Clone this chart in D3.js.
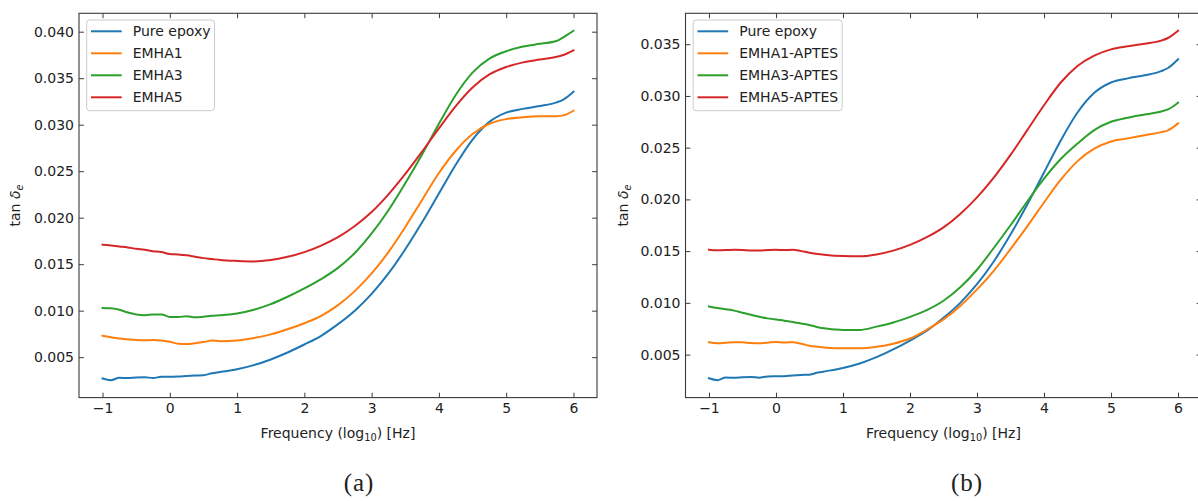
<!DOCTYPE html>
<html>
<head>
<meta charset="utf-8">
<script src="https://cdn.jsdelivr.net/npm/d3@7"></script>
<style>
  html, body { margin: 0; padding: 0; background: #fff; }
  svg { display: block; }
  text { font-family: "DejaVu Sans", sans-serif; fill: #222; }
</style>
</head>
<body>
<svg id="chart" width="1198" height="501"></svg>
<script>
// Frequency grid, log10(Hz)
const freq = [-1, -0.875, -0.75, -0.625, -0.5, -0.375, -0.25, -0.125, 0, 0.125, 0.25, 0.375, 0.5, 0.625, 0.75,
  1, 1.25, 1.5, 1.75, 2, 2.25, 2.5, 2.75, 3, 3.25, 3.5, 3.75, 4, 4.25, 4.5, 4.75, 5, 5.25, 5.5, 5.75, 5.85, 6];

// Dielectric loss tangent, tan δe
const pureEpoxy = [0.00271, 0.00253, 0.00278, 0.00276, 0.00282, 0.00284, 0.00276, 0.00289, 0.00290, 0.00291, 0.00298, 0.00303, 0.00306, 0.00326, 0.00340,
  0.00371, 0.00414, 0.00475, 0.00550, 0.00636, 0.00730, 0.00855, 0.01000, 0.01180, 0.01400, 0.01660, 0.01950, 0.02260, 0.02570, 0.02840, 0.03030, 0.03130, 0.03170, 0.03200, 0.03240, 0.03270, 0.03355];

const emha1 = [0.00730, 0.00715, 0.00700, 0.00692, 0.00685, 0.00682, 0.00684, 0.00680, 0.00665, 0.00645, 0.00642, 0.00650, 0.00662, 0.00680, 0.00672,
  0.00680, 0.00705, 0.00745, 0.00800, 0.00865, 0.00945, 0.01060, 0.01210, 0.01400, 0.01630, 0.01900, 0.02190, 0.02480, 0.02720, 0.02900, 0.03010, 0.03060, 0.03080, 0.03090, 0.03092, 0.03100, 0.03150];

const emha3 = [0.01030, 0.01025, 0.01010, 0.00980, 0.00960, 0.00952, 0.00958, 0.00960, 0.00932, 0.00932, 0.00940, 0.00928, 0.00935, 0.00945, 0.00950,
  0.00970, 0.01010, 0.01070, 0.01150, 0.01240, 0.01340, 0.01460, 0.01620, 0.01830, 0.02080, 0.02370, 0.02680, 0.03010, 0.03320, 0.03560, 0.03710, 0.03790, 0.03840, 0.03870, 0.03900, 0.03940, 0.04010];

const emha5 = [0.01710, 0.01700, 0.01690, 0.01680, 0.01665, 0.01655, 0.01640, 0.01630, 0.01610, 0.01605, 0.01595, 0.01580, 0.01565, 0.01555, 0.01545,
  0.01535, 0.01530, 0.01545, 0.01580, 0.01630, 0.01700, 0.01790, 0.01910, 0.02060, 0.02250, 0.02470, 0.02710, 0.02960, 0.03200, 0.03400, 0.03540, 0.03620, 0.03670, 0.03700, 0.03730, 0.03750, 0.03800];

const emha1Aptes = [0.00620, 0.00610, 0.00615, 0.00620, 0.00618, 0.00612, 0.00610, 0.00615, 0.00622, 0.00616, 0.00620, 0.00605, 0.00585, 0.00575, 0.00567,
  0.00560, 0.00560, 0.00575, 0.00605, 0.00655, 0.00740, 0.00840, 0.00970, 0.01130, 0.01310, 0.01520, 0.01740, 0.01970, 0.02190, 0.02370, 0.02490, 0.02560, 0.02590, 0.02620, 0.02650, 0.02668, 0.02735];

const emha3Aptes = [0.00965, 0.00950, 0.00938, 0.00925, 0.00905, 0.00885, 0.00865, 0.00850, 0.00838, 0.00828, 0.00815, 0.00800, 0.00785, 0.00765, 0.00752,
  0.00738, 0.00738, 0.00770, 0.00810, 0.00865, 0.00930, 0.01020, 0.01150, 0.01320, 0.01530, 0.01750, 0.01980, 0.02200, 0.02390, 0.02540, 0.02670, 0.02750, 0.02790, 0.02820, 0.02850, 0.02870, 0.02935];

const emha5Aptes = [0.01514, 0.01508, 0.01510, 0.01514, 0.01512, 0.01506, 0.01505, 0.01510, 0.01514, 0.01510, 0.01514, 0.01500, 0.01485, 0.01472, 0.01462,
  0.01452, 0.01450, 0.01468, 0.01505, 0.01560, 0.01635, 0.01730, 0.01860, 0.02020, 0.02210, 0.02430, 0.02670, 0.02910, 0.03130, 0.03290, 0.03390, 0.03450, 0.03480, 0.03505, 0.03535, 0.03560, 0.03630];

// Legend names and tick values
const namesA = ["Pure epoxy", "EMHA1", "EMHA3", "EMHA5"];
const namesB = ["Pure epoxy", "EMHA1-APTES", "EMHA3-APTES", "EMHA5-APTES"];
const xTicks = [-1, 0, 1, 2, 3, 4, 5, 6];
const yTicksA = [0.005, 0.010, 0.015, 0.020, 0.025, 0.030, 0.035, 0.040];
const yTicksB = [0.005, 0.010, 0.015, 0.020, 0.025, 0.030, 0.035];
const colors = ["#1f77b4", "#ff7f0e", "#2ca02c", "#d62728"];

const svg = d3.select("#chart");
const plotTop = 13.3, plotBottom = 397.6;
const tickLen = 4.9;
const spineColor = "#3a3a3a";

const panels = [
  { left: 79, right: 597, names: namesA, values: [pureEpoxy, emha1, emha3, emha5], yTicks: yTicksA,
    ylabelX: 20, caption: "(a)", captionX: 359 },
  { left: 685.5, right: 1201.5, names: namesB, values: [pureEpoxy, emha1Aptes, emha3Aptes, emha5Aptes], yTicks: yTicksB,
    ylabelX: 628, caption: "(b)", captionX: 967 }
];

// matplotlib-style 5% padded extent
function padded(ext) {
  const r = ext[1] - ext[0];
  return [ext[0] - 0.05 * r, ext[1] + 0.05 * r];
}

panels.forEach((p, pi) => {
  const g = svg.append("g");
  const x = d3.scaleLinear().domain(padded(d3.extent(freq))).range([p.left, p.right]);
  const allY = p.values.flat();
  const y = d3.scaleLinear().domain(padded(d3.extent(allY))).range([plotBottom, plotTop]);

  // Clip so lines stay within axes
  const clipId = "clip" + pi;
  svg.append("clipPath").attr("id", clipId)
    .append("rect").attr("x", p.left).attr("y", plotTop)
    .attr("width", p.right - p.left).attr("height", plotBottom - plotTop);

  const line = d3.line()
    .x((d, i) => x(freq[i]))
    .y(d => y(d))
    .curve(d3.curveMonotoneX);

  g.append("g").attr("clip-path", `url(#${clipId})`)
    .selectAll("path").data(p.values).join("path")
    .attr("d", d => line(d))
    .attr("fill", "none")
    .attr("stroke", (d, i) => colors[i])
    .attr("stroke-width", 2)
    .attr("stroke-linejoin", "round")
    .attr("stroke-linecap", "square");

  // Bottom axis (ticks inward) and top ticks
  const xAxis = d3.axisBottom(x).tickValues(xTicks).tickSize(-tickLen).tickPadding(5)
    .tickFormat(d3.format("d"));
  const gx = g.append("g").attr("transform", `translate(0,${plotBottom})`).call(xAxis);
  const xTop = d3.axisTop(x).tickValues(xTicks).tickSize(-tickLen).tickFormat("");
  const gxt = g.append("g").attr("transform", `translate(0,${plotTop})`).call(xTop);

  // Left axis and right ticks
  const yAxis = d3.axisLeft(y).tickValues(p.yTicks).tickSize(-tickLen).tickPadding(5)
    .tickFormat(d3.format(".3f"));
  const gy = g.append("g").attr("transform", `translate(${p.left},0)`).call(yAxis);
  const yRight = d3.axisRight(y).tickValues(p.yTicks).tickSize(-tickLen).tickFormat("");
  const gyr = g.append("g").attr("transform", `translate(${p.right},0)`).call(yRight);

  [gx, gxt, gy, gyr].forEach(a => {
    a.select(".domain").remove();
    a.selectAll(".tick line").attr("stroke", spineColor).attr("stroke-width", 1);
    a.selectAll(".tick text").attr("font-family", "DejaVu Sans").attr("font-size", 14).attr("fill", "#222");
  });

  // Frame
  g.append("rect")
    .attr("x", p.left).attr("y", plotTop)
    .attr("width", p.right - p.left).attr("height", plotBottom - plotTop)
    .attr("fill", "none").attr("stroke", spineColor).attr("stroke-width", 1.1);

  // Axis labels
  const xl = g.append("text")
    .attr("x", (p.left + p.right) / 2).attr("y", 437.5)
    .attr("text-anchor", "middle").attr("font-size", 14);
  xl.append("tspan").text("Frequency (log");
  xl.append("tspan").attr("font-size", 9.8).attr("dy", 3).text("10");
  xl.append("tspan").attr("dy", -3).text(") [Hz]");

  const yl = g.append("text")
    .attr("transform", `translate(${p.ylabelX},${(plotTop + plotBottom) / 2}) rotate(-90)`)
    .attr("text-anchor", "middle").attr("font-size", 14);
  yl.append("tspan").text("tan ");
  yl.append("tspan").attr("font-style", "italic").text("δ");
  yl.append("tspan").attr("font-style", "italic").attr("font-size", 9.8).attr("dy", 2.5).text("e");

  // Legend
  const lg = g.append("g");
  const lgBox = lg.append("rect")
    .attr("x", p.left + 7.7).attr("y", 20)
    .attr("height", 90.7).attr("rx", 3)
    .attr("fill", "#fff").attr("fill-opacity", 0.8)
    .attr("stroke", "#cccccc").attr("stroke-width", 1);
  let maxW = 0;
  p.names.forEach((name, i) => {
    const cy = 31.3 + i * 22;
    lg.append("line")
      .attr("x1", p.left + 12).attr("x2", p.left + 42.7)
      .attr("y1", cy).attr("y2", cy)
      .attr("stroke", colors[i]).attr("stroke-width", 2);
    const t = lg.append("text")
      .attr("x", p.left + 53.7).attr("y", cy + 5)
      .attr("font-size", 14).text(name);
    maxW = Math.max(maxW, t.node().getComputedTextLength());
  });
  lgBox.attr("width", 53.7 + maxW + 4 - 7.7);

  // Sub-figure caption
  svg.append("text")
    .attr("x", p.captionX).attr("y", 491)
    .attr("text-anchor", "middle")
    .style("font-family", "'Liberation Serif', serif")
    .attr("font-size", 25)
    .attr("letter-spacing", 1)
    .text(p.caption);
});
</script>
</body>
</html>
